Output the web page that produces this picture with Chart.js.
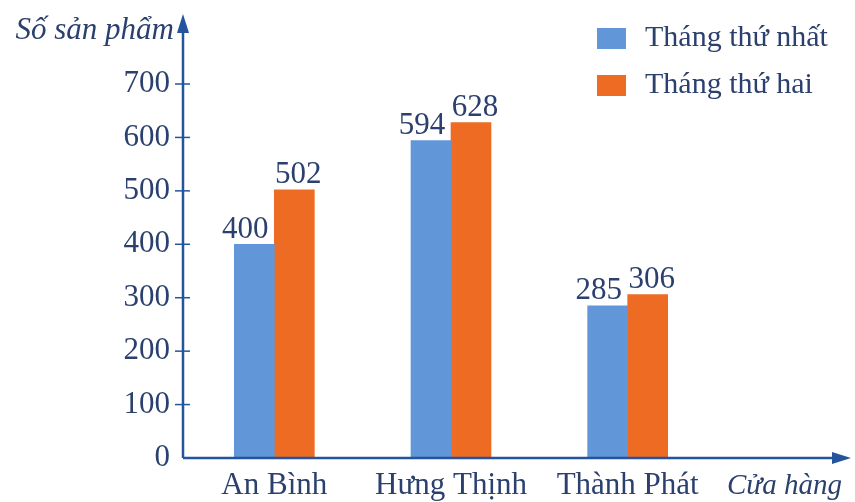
<!DOCTYPE html>
<html>
<head>
<meta charset="utf-8">
<script src="https://cdn.jsdelivr.net/npm/chart.js@4.4.1/dist/chart.umd.min.js"></script>
<style>
  html, body { margin: 0; padding: 0; background: #fff; }
  #wrap { width: 855px; height: 502px; }
</style>
</head>
<body>
<div id="wrap"><canvas id="sanPhamChart" width="855" height="502"></canvas></div>
<script>
// Dữ liệu số sản phẩm bán ra
const cuaHang = ['An Bình', 'Hưng Thịnh', 'Thành Phát'];
const thangThuNhat = [400, 594, 285];
const thangThuHai = [502, 628, 306];
const yTicks = [0, 100, 200, 300, 400, 500, 600, 700];

const mauXanh = '#6197d8';
const mauCam = '#ee6b24';
const mauChu = '#2b406e';
const mauTruc = '#23549c';
const fontChu = '"Liberation Serif", "DejaVu Serif", serif';

// Vẽ trục có mũi tên, nhãn số liệu, tên trục và chú thích
const trangTri = {
    id: 'trangTri',
    afterDraw(chart) {
        const { ctx, chartArea, scales } = chart;
        const x0 = chartArea.left - 3;
        const y0 = scales.y.getPixelForValue(0);
        ctx.save();
        ctx.strokeStyle = mauTruc;
        ctx.fillStyle = mauTruc;
        ctx.lineWidth = 2.5;

        // trục tung
        ctx.beginPath();
        ctx.moveTo(x0, y0);
        ctx.lineTo(x0, 26);
        ctx.stroke();
        ctx.beginPath();
        ctx.moveTo(x0, 14);
        ctx.lineTo(x0 - 6, 33);
        ctx.lineTo(x0 + 6, 33);
        ctx.closePath();
        ctx.fill();

        // trục hoành
        ctx.beginPath();
        ctx.moveTo(x0, y0);
        ctx.lineTo(838, y0);
        ctx.stroke();
        ctx.beginPath();
        ctx.moveTo(851, y0);
        ctx.lineTo(832, y0 - 6);
        ctx.lineTo(832, y0 + 6);
        ctx.closePath();
        ctx.fill();

        // vạch chia
        ctx.lineWidth = 1.5;
        yTicks.forEach(v => {
            if (v === 0) return;
            const y = scales.y.getPixelForValue(v);
            ctx.beginPath();
            ctx.moveTo(x0 - 8, y);
            ctx.lineTo(x0 + 7, y);
            ctx.stroke();
        });

        // tên trục
        ctx.fillStyle = mauChu;
        ctx.font = 'italic 31px ' + fontChu;
        ctx.textBaseline = 'middle';
        ctx.textAlign = 'right';
        ctx.fillText('Số sản phẩm', x0 - 9, 31);
        ctx.font = 'italic 29px ' + fontChu;
        ctx.textAlign = 'left';
        ctx.fillText('Cửa hàng', 727, 486);

        // số liệu trên cột
        ctx.font = '31px ' + fontChu;
        ctx.textAlign = 'center';
        ctx.textBaseline = 'bottom';
        chart.data.datasets.forEach((ds, i) => {
            chart.getDatasetMeta(i).data.forEach((bar, j) => {
                const dx = i === 0 ? -9 : 4;
                ctx.fillText(String(ds.data[j]), bar.x + dx, bar.y + 1);
            });
        });

        // chú thích
        ctx.font = '30px ' + fontChu;
        ctx.textAlign = 'left';
        ctx.textBaseline = 'middle';
        chart.data.datasets.forEach((ds, i) => {
            const y = 38 + i * 47;
            ctx.fillStyle = ds.backgroundColor;
            ctx.fillRect(597, y - 10, 29, 21);
            ctx.fillStyle = mauChu;
            ctx.fillText(ds.label, 645, y);
        });
        ctx.restore();
    }
};

const ctx = document.getElementById('sanPhamChart').getContext('2d');
const sanPhamChart = new Chart(ctx, {
    type: 'bar',
    data: {
        labels: cuaHang,
        datasets: [
            { label: 'Tháng thứ nhất', data: thangThuNhat, backgroundColor: mauXanh, barThickness: 40 },
            { label: 'Tháng thứ hai', data: thangThuHai, backgroundColor: mauCam, barThickness: 40 }
        ]
    },
    options: {
        responsive: false,
        animation: false,
        layout: { padding: { top: 84, right: 139, left: 0, bottom: 0 } },
        plugins: {
            legend: { display: false },
            tooltip: { enabled: false }
        },
        scales: {
            x: {
                grid: { display: false },
                border: { display: false },
                ticks: { color: mauChu, font: { family: fontChu, size: 31 }, padding: 1 },
                afterFit: scale => { scale.height = 44; }
            },
            y: {
                min: 0,
                max: 700,
                afterBuildTicks: scale => { scale.ticks = yTicks.map(v => ({ value: v })); },
                grid: { display: false },
                border: { display: false },
                ticks: { color: mauChu, font: { family: fontChu, size: 31 }, padding: 8 },
                afterFit: scale => { scale.width = 186; }
            }
        }
    },
    plugins: [trangTri]
});
</script>
</body>
</html>
